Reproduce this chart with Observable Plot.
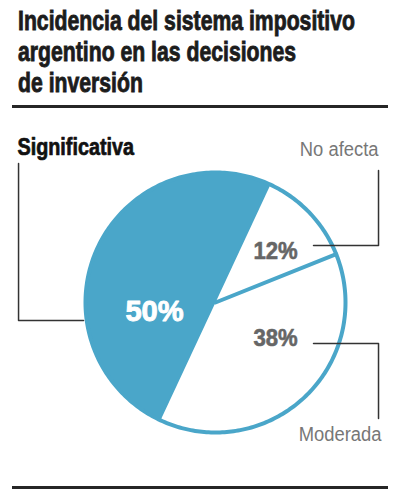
<!DOCTYPE html>
<html>
<head>
<meta charset="utf-8">
<script src="https://cdn.jsdelivr.net/npm/d3@7"></script>
<script src="https://cdn.jsdelivr.net/npm/@observablehq/plot@0.6"></script>
<style>
  html, body { margin: 0; padding: 0; background: #fff; width: 400px; height: 500px; overflow: hidden; }
  #title { position: absolute; left: 18px; top: 5px; font-family: "Liberation Sans", Arial, sans-serif; font-size: 28px; line-height: 31px; font-weight: bold; color: #1c1c1c; -webkit-text-stroke: 0.9px #1c1c1c; white-space: nowrap; transform-origin: 0 0; }
  #title span { display: inline-block; }
  #rule1 { position: absolute; left: 12px; width: 376px; top: 105px; height: 3px; background: #262626; }
  #chart { position: absolute; left: 0; top: 110px; }
  #rule2 { position: absolute; left: 12px; width: 376px; top: 486px; height: 3px; background: #262626; }
</style>
</head>
<body>
<div id="title"><span id="t1">Incidencia del sistema impositivo</span><br><span>argentino en las decisiones</span><br><span>de inversión</span></div>
<div id="rule1"></div>
<div id="chart"></div>
<div id="rule2"></div>
<script>
// ---- data ----
const categories = ["No afecta", "Moderada", "Significativa"];
const values = [12, 38, 50];
const valueLabels = ["12%", "38%", "50%"];

// ---- layout (unit = pie radius) ----
const startDeg = 25;
const pctPos = [[0.4615, 0.396], [0.4615, -0.277], [-0.469, -0.068]];
const pctColor = ["#666666", "#666666", "#ffffff"];
const pctSize = [24, 24, 30];
const pctStroke = [0.6, 0.6, 0.9];
const pctSqueeze = [0.92, 0.92, 0.97];
const sliceFill = ["#ffffff", "#ffffff", "#4aa6c9"];
const catPos = [[1.254, 1.179, "end"], [1.277, -1.014, "end"], [-1.523, 1.188, "start"]];
const catColor = ["#777777", "#777777", "#111111"];
const catWeight = ["normal", "normal", "bold"];
const catStroke = [0, 0, 0.7];
const catSize = [20, 20, 23];
const catSqueeze = [0.92, 0.92, 0.86];
const leaders = [
  [[1.254, 1.015], [1.254, 0.438], [0.754, 0.438]],
  [[0.754, -0.315], [1.254, -0.315], [1.254, -0.892]],
  [[-1.515, 1.069], [-1.515, -0.138], [-1.015, -0.138]]
];
const blue = "#4aa6c9";
const titleWidth = 337;

const t1 = document.getElementById("t1");
const tf = titleWidth / t1.getBoundingClientRect().width;
document.getElementById("title").style.transform = `scaleX(${tf})`;

const pie = d3.pie().sort(null)
  .startAngle(startDeg * Math.PI / 180)
  .endAngle(startDeg * Math.PI / 180 + 2 * Math.PI)(values);

function arcPoints(a0, a1, withCenter) {
  const pts = withCenter ? [{x: 0, y: 0}] : [];
  const n = Math.max(2, Math.ceil((a1 - a0) / (Math.PI / 180)));
  for (let i = 0; i <= n; i++) {
    const a = a0 + (a1 - a0) * i / n;
    pts.push({x: Math.sin(a), y: Math.cos(a)});
  }
  if (withCenter) pts.push({x: 0, y: 0});
  return pts;
}

const W = 400, H = 370, cx = 215, cy = 192, R = 130;
const xDomain = [-cx / R, (W - cx) / R];
const yDomain = [-(H - cy) / R, cy / R];

const marks = [];
pie.forEach((p, i) => {
  marks.push(Plot.line(arcPoints(p.startAngle, p.endAngle, true), {x: "x", y: "y", fill: sliceFill[i], stroke: "none"}));
});
const divA = pie[0].endAngle;
marks.push(Plot.line([{x: 0, y: 0}, {x: Math.sin(divA), y: Math.cos(divA)}], {x: "x", y: "y", stroke: blue, strokeWidth: 4}));
marks.push(Plot.line(arcPoints(0, 2 * Math.PI, false), {x: "x", y: "y", stroke: blue, strokeWidth: 4}));
leaders.forEach(l => {
  marks.push(Plot.line(l.map(([x, y]) => ({x, y})), {x: "x", y: "y", stroke: "#333333", strokeWidth: 1.5}));
});
values.forEach((v, i) => {
  marks.push(Plot.text([valueLabels[i]], {x: () => pctPos[i][0], y: () => pctPos[i][1], text: d => d,
    fill: pctColor[i], stroke: pctColor[i], strokeWidth: pctStroke[i], fontSize: pctSize[i], fontWeight: "bold", textAnchor: "middle",
    className: "sq" + Math.round(pctSqueeze[i] * 100)}));
});
categories.forEach((c, i) => {
  marks.push(Plot.text([c], {x: () => catPos[i][0], y: () => catPos[i][1], text: d => d,
    fill: catColor[i], stroke: catStroke[i] ? catColor[i] : "none", strokeWidth: catStroke[i], fontSize: catSize[i], fontWeight: catWeight[i], textAnchor: catPos[i][2],
    className: "sq" + Math.round(catSqueeze[i] * 100)}));
});

const chart = Plot.plot({
  width: W, height: H, margin: 0,
  x: {domain: xDomain, axis: null},
  y: {domain: yDomain, axis: null},
  style: {background: "transparent", fontFamily: '"Liberation Sans", Arial, sans-serif'},
  marks
});
document.getElementById("chart").appendChild(chart);

d3.select(chart).selectAll("text").each(function() {
  const g = this.closest("g");
  const m = (g && g.getAttribute("class") || "").match(/sq(\d+)/);
  if (!m) return;
  const f = +m[1] / 100;
  const len = this.getComputedTextLength();
  this.setAttribute("textLength", len * f);
  this.setAttribute("lengthAdjust", "spacingAndGlyphs");
  this.setAttribute("paint-order", "normal");
});
</script>
</body>
</html>
